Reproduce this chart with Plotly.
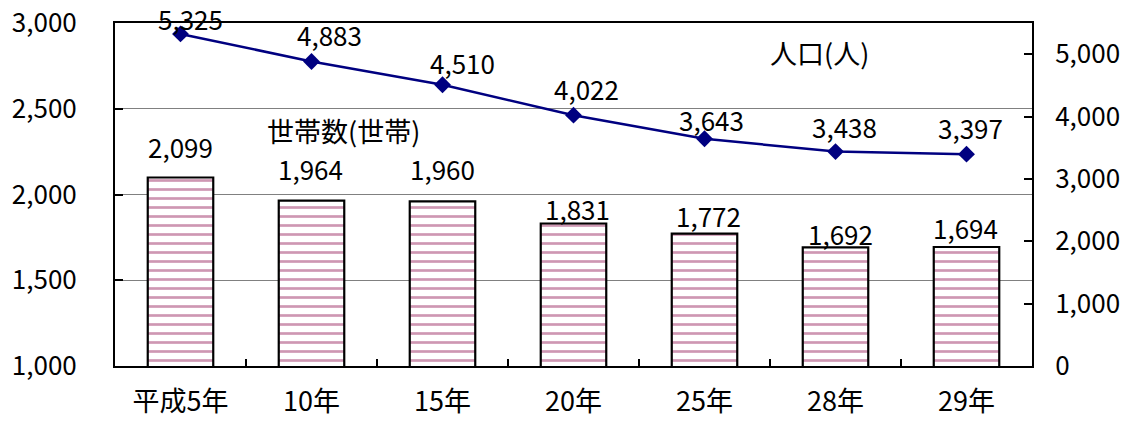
import plotly.graph_objects as go

categories = ["平成5年", "10年", "15年", "20年", "25年", "28年", "29年"]
households = [2099, 1964, 1960, 1831, 1772, 1692, 1694]
population = [5325, 4883, 4510, 4022, 3643, 3438, 3397]

# label nudges (pixels) – style only
bar_lbl_dx = [0, -1, 0, 4, 4, 5, -1]
bar_lbl_dy = [31, 32, 33, 15, 18, 14, 19]
pop_lbl_dx = [10, 18, 20, 13, 7, 9, 4]
pop_lbl_dy = [15, 27, 22, 27, 19, 25, 27]

FONT = "Noto Sans CJK JP"
FS = 26
fig = go.Figure()

fig.add_trace(go.Bar(
    x=categories, y=households, width=0.5, yaxis="y",
    marker=dict(color="white", line=dict(color="black", width=2.2),
                pattern=dict(shape="-", fgcolor="#9e2f66", bgcolor="white",
                             size=9, solidity=0.3)),
    showlegend=False, hoverinfo="skip",
))

fig.add_trace(go.Scatter(
    x=categories, y=population, yaxis="y2", mode="lines+markers",
    line=dict(color="#000080", width=2.5),
    marker=dict(symbol="diamond", size=13, color="#000080"),
    showlegend=False, hoverinfo="skip",
))

annotations = []
for i, c in enumerate(categories):
    annotations.append(dict(x=c, y=households[i], xref="x", yref="y",
                            text=f"{households[i]:,}", showarrow=False,
                            yanchor="middle", xanchor="center",
                            xshift=bar_lbl_dx[i], yshift=bar_lbl_dy[i],
                            font=dict(family=FONT, size=FS, color="black")))
    annotations.append(dict(x=c, y=population[i], xref="x", yref="y2",
                            text=f"{population[i]:,}", showarrow=False,
                            yanchor="middle", xanchor="center",
                            xshift=pop_lbl_dx[i], yshift=pop_lbl_dy[i],
                            font=dict(family=FONT, size=FS, color="black")))

annotations.append(dict(x=0.249, y=0.688, xref="paper", yref="paper",
                        xanchor="center", yanchor="middle",
                        text="世帯数(世帯)", showarrow=False,
                        font=dict(family=FONT, size=27, color="black")))
annotations.append(dict(x=0.768, y=0.913, xref="paper", yref="paper",
                        xanchor="center", yanchor="middle",
                        text="人口(人)", showarrow=False,
                        font=dict(family=FONT, size=27, color="black")))

fig.update_layout(
    width=1137, height=423,
    margin=dict(l=115, r=105, t=23, b=57, autoexpand=False),
    paper_bgcolor="white", plot_bgcolor="white",
    font=dict(family=FONT, size=FS, color="black"),
    annotations=annotations,
    xaxis=dict(showline=True, linecolor="black", linewidth=2, mirror=True,
               ticks="inside", ticklen=7, tickcolor="black", tickwidth=2,
               tickson="boundaries", showgrid=False, automargin=False,
               tickfont=dict(family=FONT, size=27, color="black"),
               ticklabelstandoff=11),
    yaxis=dict(range=[1000, 3000], dtick=500, tickformat=",",
               showline=True, linecolor="black", linewidth=2,
               ticks="inside", ticklen=8, tickcolor="black", tickwidth=2,
               showgrid=True, gridcolor="#808080", gridwidth=1,
               zeroline=False, automargin=False,
               tickfont=dict(family=FONT, size=FS, color="black"),
               ticklabelstandoff=31),
    yaxis2=dict(range=[0, 5500], tickvals=[0, 1000, 2000, 3000, 4000, 5000],
                tickformat=",", overlaying="y", side="right",
                showline=True, linecolor="black", linewidth=2,
                ticks="inside", ticklen=8, tickcolor="black", tickwidth=2,
                showgrid=False, zeroline=False, automargin=False,
                tickfont=dict(family=FONT, size=FS, color="black"),
                ticklabelstandoff=16),
)

fig.write_html(
    "out.html",
    config={"displayModeBar": False},
    post_script="document.body.style.margin='0';document.body.style.overflow='hidden';",
)
